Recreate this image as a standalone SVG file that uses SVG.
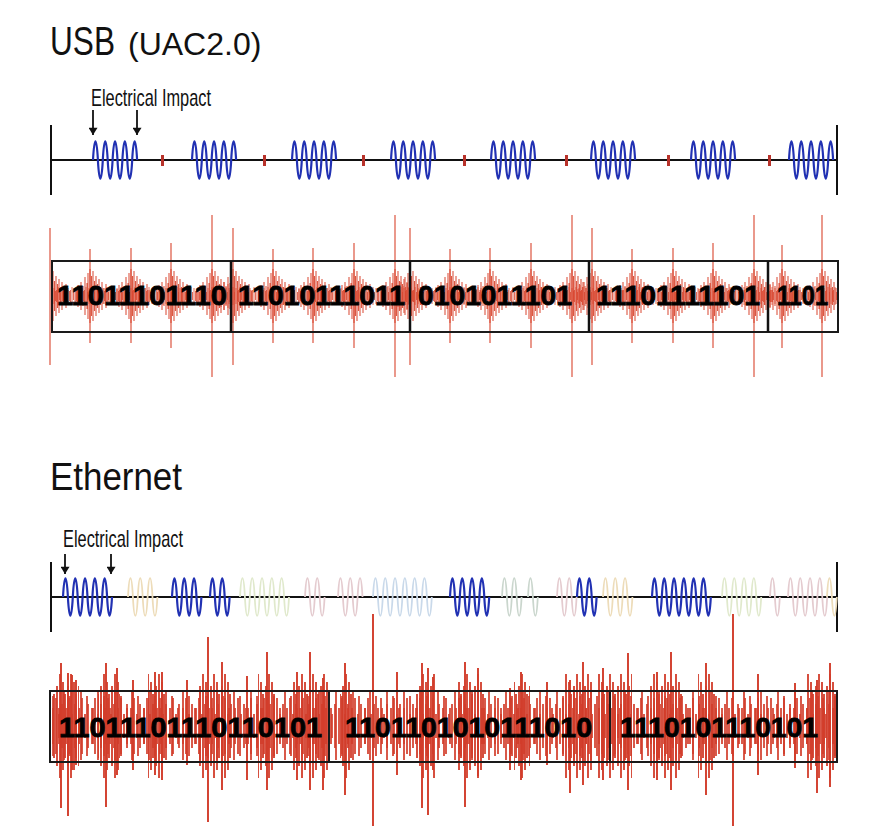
<svg xmlns="http://www.w3.org/2000/svg" xmlns:xlink="http://www.w3.org/1999/xlink" width="875" height="840" viewBox="0 0 875 840">
<style>
.title{font-family:"Liberation Sans",Arial,sans-serif;fill:#111}
.lbl{font-family:"Liberation Sans",Arial,sans-serif;font-size:24px;fill:#111}
.bits{font-family:"Liberation Sans",Arial,sans-serif;font-size:28px;font-weight:bold;fill:#000;stroke:#000;stroke-width:0.8}
.axis{stroke:#111;stroke-width:2;fill:none}
.box{stroke:#1a1a1a;stroke-width:2;fill:none}
.div{stroke:#111;stroke-width:2.5}
.blue{stroke:#2131b3;stroke-width:2.2;fill:none}
.tan{stroke:#eddcb9;stroke-width:1.8;fill:none}
.grn{stroke:#e0e9cc;stroke-width:1.8;fill:none}
.pnk{stroke:#e4cbcf;stroke-width:1.8;fill:none}
.lblu{stroke:#c9d9ea;stroke-width:1.8;fill:none}
.gg{stroke:#cad6cd;stroke-width:1.8;fill:none}
.usbn{stroke:#d9462f;stroke-width:1.1;fill:none}
.ethn{stroke:#d23c2a;stroke-width:1.9;fill:none}
.arr{stroke:#111;stroke-width:1.8;marker-end:url(#ah)}
.mark{fill:#b8322a}
</style>
<defs>
<marker id="ah" viewBox="0 0 8 10" refX="8" refY="5" markerWidth="8" markerHeight="9" markerUnits="userSpaceOnUse" orient="auto"><path d="M0 0L8 5L0 10z" fill="#111"/></marker>
<clipPath id="usbClip"><rect x="52" y="200" width="786" height="200"/></clipPath>
<path id="usbBurst" d="M0 0c1.3-25 3.6-25 4.9 0s3.6 25 4.9 0s3.6-25 4.9 0s3.6 25 4.9 0s3.6-25 4.9 0s3.6 25 4.9 0s3.6-25 4.9 0s3.6 25 4.9 0s3.6-25 4.9 0"/>
<path id="ub" d="M-14-7v14M-12-11v22M-10-6v12M-9-14v28M-7-10v20M-5-19v38M-3-13v26M-2-23v46M0-27v54M1.5-20v40M3-25v50M4.5-15v30M6-20v40M7.5-12v24M9-17v34M10.5-9v18M12-14v28M14-8v16M16-12v24M18-6v12"/>
<pattern id="uNoise" patternUnits="userSpaceOnUse" x="0" y="266" width="7" height="60"><path d="M0.5 24v12M2 21v18M3.5 26v8M5 22v16M6.5 25v10" stroke="#d9462f" stroke-width="1"/></pattern>
<pattern id="pA" patternUnits="userSpaceOnUse" x="0" y="656" width="13" height="140"><path d="M1 52v36M4 42v56M7 58v24M10 48v44" stroke="#d23c2a" stroke-width="1.7"/></pattern>
<pattern id="pB" patternUnits="userSpaceOnUse" x="0" y="656" width="17" height="140"><path d="M2 40v60M8 52v36M13 36v68" stroke="#d23c2a" stroke-width="1.7"/></pattern>
<pattern id="pC" patternUnits="userSpaceOnUse" x="0" y="656" width="11" height="140"><path d="M2 30v80M5 18v104M8 26v88M10 38v64" stroke="#d23c2a" stroke-width="1.8"/></pattern>
</defs>
<rect width="875" height="840" fill="#fff"/>

<g id="usb-title">
<text class="title" x="50" y="55" font-size="41" textLength="65" lengthAdjust="spacingAndGlyphs">USB</text>
<text class="title" x="128" y="55" font-size="32">(UAC2.0)</text>
</g>

<g id="usb-impact-label"><text class="lbl" x="91" y="106" textLength="120" lengthAdjust="spacingAndGlyphs">Electrical Impact</text></g>

<g id="usb-signal">
<path class="axis" d="M51 160H837M51 125V195M837 125V195"/>
<g class="blue">
<use xlink:href="#usbBurst" x="93" y="160"/>
<use xlink:href="#usbBurst" x="192" y="160"/>
<use xlink:href="#usbBurst" x="292" y="160"/>
<use xlink:href="#usbBurst" x="391" y="160"/>
<use xlink:href="#usbBurst" x="491" y="160"/>
<use xlink:href="#usbBurst" x="591" y="160"/>
<use xlink:href="#usbBurst" x="691" y="160"/>
<use xlink:href="#usbBurst" x="789" y="160"/>
</g>
<g class="mark">
<rect x="161" y="155" width="3" height="11"/>
<rect x="263" y="155" width="3" height="11"/>
<rect x="362" y="155" width="3" height="11"/>
<rect x="463" y="155" width="3" height="11"/>
<rect x="565" y="155" width="3" height="11"/>
<rect x="667" y="155" width="3" height="11"/>
<rect x="768" y="155" width="3" height="11"/>
</g>
</g>

<g id="usb-data">
<rect x="52" y="266" width="786" height="60" fill="url(#uNoise)" opacity="0.8"/>
<g class="usbn" clip-path="url(#usbClip)" opacity="0.9">
<use xlink:href="#ub" x="50" y="296"/><use xlink:href="#ub" x="90" y="296"/><use xlink:href="#ub" x="131" y="296"/><use xlink:href="#ub" x="171" y="296"/><use xlink:href="#ub" x="212" y="296"/>
<use xlink:href="#ub" x="233" y="296"/><use xlink:href="#ub" x="273" y="296"/><use xlink:href="#ub" x="313" y="296"/><use xlink:href="#ub" x="354" y="296"/><use xlink:href="#ub" x="395" y="296"/>
<use xlink:href="#ub" x="410" y="296"/><use xlink:href="#ub" x="450" y="296"/><use xlink:href="#ub" x="490" y="296"/><use xlink:href="#ub" x="531" y="296"/><use xlink:href="#ub" x="572" y="296"/>
<use xlink:href="#ub" x="592" y="296"/><use xlink:href="#ub" x="632" y="296"/><use xlink:href="#ub" x="673" y="296"/><use xlink:href="#ub" x="713" y="296"/><use xlink:href="#ub" x="754" y="296"/>
<use xlink:href="#ub" x="782" y="296"/><use xlink:href="#ub" x="822" y="296"/>
</g>
<path class="usbn" stroke-width="1.6" d="M50 228V365M90 249V343M131 248V343M171 243V348M212 215V377M233 228V365M273 249V343M313 248V343M354 243V348M395 215V377M410 228V365M450 249V343M490 248V343M531 243V348M572 215V377M592 228V365M632 249V343M673 248V343M713 243V348M754 215V377M782 245V348M822 215V377"/>
<rect class="box" x="52" y="261" width="786" height="71"/>
<path class="div" d="M231 261V332M410 261V332M589 261V332M768 261V332"/>
<text class="bits" x="57" y="305" textLength="170" lengthAdjust="spacingAndGlyphs">11011101110</text>
<text class="bits" x="238" y="305" textLength="167" lengthAdjust="spacingAndGlyphs">11010111011</text>
<text class="bits" x="418" y="305" textLength="154" lengthAdjust="spacingAndGlyphs">0101011101</text>
<text class="bits" x="596" y="305" textLength="164" lengthAdjust="spacingAndGlyphs">11101111101</text>
<text class="bits" x="777" y="305" textLength="51" lengthAdjust="spacingAndGlyphs">1101</text>
</g>

<g id="eth-title"><text class="title" x="50" y="490" font-size="38" textLength="132" lengthAdjust="spacingAndGlyphs">Ethernet</text></g>

<g id="eth-impact-label"><text class="lbl" x="63" y="547" textLength="120" lengthAdjust="spacingAndGlyphs">Electrical Impact</text></g>

<g id="eth-signal">
<path class="axis" d="M51 597H837M51 562V632M837 562V632"/>
<path class="blue" d="M63 597c1.3-25 3.6-25 4.9 0s3.6 25 4.9 0s3.6-25 4.9 0s3.6 25 4.9 0s3.6-25 4.9 0s3.6 25 4.9 0s3.6-25 4.9 0s3.6 25 4.9 0s3.6-25 4.9 0s3.6 25 4.9 0"/>
<path class="tan" d="M128 597c1.3-25 3.6-25 4.9 0s3.6 25 4.9 0s3.6-25 4.9 0s3.6 25 4.9 0s3.6-25 4.9 0s3.6 25 4.9 0"/>
<path class="blue" d="M172 597c1.3-25 3.6-25 4.9 0s3.6 25 4.9 0s3.6-25 4.9 0s3.6 25 4.9 0s3.6-25 4.9 0s3.6 25 4.9 0"/>
<path class="blue" d="M210 597c1.3-25 3.6-25 4.9 0s3.6 25 4.9 0s3.6-25 4.9 0s3.6 25 4.9 0"/>
<path class="grn" d="M240 597c1.3-25 3.6-25 4.9 0s3.6 25 4.9 0s3.6-25 4.9 0s3.6 25 4.9 0s3.6-25 4.9 0s3.6 25 4.9 0s3.6-25 4.9 0s3.6 25 4.9 0s3.6-25 4.9 0s3.6 25 4.9 0"/>
<path class="pnk" d="M305 597c1.3-25 3.6-25 4.9 0s3.6 25 4.9 0s3.6-25 4.9 0s3.6 25 4.9 0"/>
<path class="pnk" d="M338 597c1.3-25 3.6-25 4.9 0s3.6 25 4.9 0s3.6-25 4.9 0s3.6 25 4.9 0s3.6-25 4.9 0"/>
<path class="lblu" d="M373 597c1.3-25 3.6-25 4.9 0s3.6 25 4.9 0s3.6-25 4.9 0s3.6 25 4.9 0s3.6-25 4.9 0s3.6 25 4.9 0s3.6-25 4.9 0s3.6 25 4.9 0s3.6-25 4.9 0s3.6 25 4.9 0s3.6-25 4.9 0s3.6 25 4.9 0"/>
<path class="blue" d="M450 597c1.3-25 3.6-25 4.9 0s3.6 25 4.9 0s3.6-25 4.9 0s3.6 25 4.9 0s3.6-25 4.9 0s3.6 25 4.9 0s3.6-25 4.9 0s3.6 25 4.9 0"/>
<path class="gg" d="M502 597c1.3-25 3.6-25 4.9 0s3.6 25 4.9 0s3.6-25 4.9 0s3.6 25 4.9 0"/>
<path class="gg" d="M528 597c1.3-25 3.6-25 4.9 0s3.6 25 4.9 0"/>
<path class="pnk" d="M557 597c1.3-25 3.6-25 4.9 0s3.6 25 4.9 0s3.6-25 4.9 0s3.6 25 4.9 0"/>
<path class="blue" d="M577 597c1.3-25 3.6-25 4.9 0s3.6 25 4.9 0s3.6-25 4.9 0s3.6 25 4.9 0"/>
<path class="tan" d="M603 597c1.3-25 3.6-25 4.9 0s3.6 25 4.9 0s3.6-25 4.9 0s3.6 25 4.9 0s3.6-25 4.9 0s3.6 25 4.9 0"/>
<path class="blue" d="M652 597c1.3-25 3.6-25 4.9 0s3.6 25 4.9 0s3.6-25 4.9 0s3.6 25 4.9 0s3.6-25 4.9 0s3.6 25 4.9 0s3.6-25 4.9 0s3.6 25 4.9 0s3.6-25 4.9 0s3.6 25 4.9 0s3.6-25 4.9 0s3.6 25 4.9 0"/>
<path class="grn" d="M722 597c1.3-25 3.6-25 4.9 0s3.6 25 4.9 0s3.6-25 4.9 0s3.6 25 4.9 0s3.6-25 4.9 0s3.6 25 4.9 0s3.6-25 4.9 0s3.6 25 4.9 0"/>
<path class="pnk" d="M770 597c1.3-25 3.6-25 4.9 0s3.6 25 4.9 0"/>
<path class="pnk" d="M788 597c1.3-25 3.6-25 4.9 0s3.6 25 4.9 0s3.6-25 4.9 0s3.6 25 4.9 0s3.6-25 4.9 0s3.6 25 4.9 0s3.6-25 4.9 0s3.6 25 4.9 0"/>
<path class="tan" d="M827 597c1.3-25 3.6-25 4.9 0s3.6 25 4.9 0"/>
</g>

<g id="eth-data">
<rect x="51" y="656" width="786" height="140" fill="url(#pA)"/>
<rect x="51" y="656" width="786" height="140" fill="url(#pB)"/>
<g fill="url(#pC)">
<rect x="53" y="656" width="26" height="140"/>
<rect x="98" y="656" width="22" height="140"/>
<rect x="148" y="656" width="18" height="140"/>
<rect x="198" y="656" width="34" height="140"/>
<rect x="258" y="656" width="18" height="140"/>
<rect x="292" y="656" width="38" height="140"/>
<rect x="340" y="656" width="12" height="140"/>
<rect x="416" y="656" width="20" height="140"/>
<rect x="458" y="656" width="26" height="140"/>
<rect x="514" y="656" width="16" height="140"/>
<rect x="564" y="656" width="28" height="140"/>
<rect x="598" y="656" width="34" height="140"/>
<rect x="650" y="656" width="32" height="140"/>
<rect x="698" y="656" width="18" height="140"/>
<rect x="806" y="656" width="31" height="140"/>
</g>
<path class="ethn" d="M61 663V808M68 673V816M72 675V770M76 680V765M106 663V807M117 668V775M133 680V770M155 672V775M162 672V780M187 680V765M208 637V822M222 662V790M247 676V780M267 652V790M297 672V780M310 652V790M323 678V790M345 663V795M373 614V826M397 672V775M422 663V808M428 668V815M433 677V770M465 662V807M478 668V776M510 688V770M521 672V780M547 682V765M570 680V793M583 662V785M603 668V780M628 653V790M657 672V780M671 652V790M706 663V795M733 614V826M758 674V775M795 683V768M817 680V793M830 663V787"/>
<rect class="box" x="50" y="691" width="787" height="71"/>
<path class="box" d="M329 691V762M610 691V762"/>
<text class="bits" x="59" y="737" textLength="263" lengthAdjust="spacingAndGlyphs">11011101110110101</text>
<text class="bits" x="345" y="737" textLength="247" lengthAdjust="spacingAndGlyphs">1101101010111010</text>
<text class="bits" x="620" y="737" textLength="198" lengthAdjust="spacingAndGlyphs">1110101110101</text>
</g>

<g id="connectors">
<line class="arr" x1="93" y1="110" x2="93" y2="135"/>
<line class="arr" x1="137" y1="110" x2="137" y2="135"/>
<line class="arr" x1="65" y1="554" x2="65" y2="574"/>
<line class="arr" x1="111" y1="554" x2="111" y2="574"/>
</g>
</svg>
